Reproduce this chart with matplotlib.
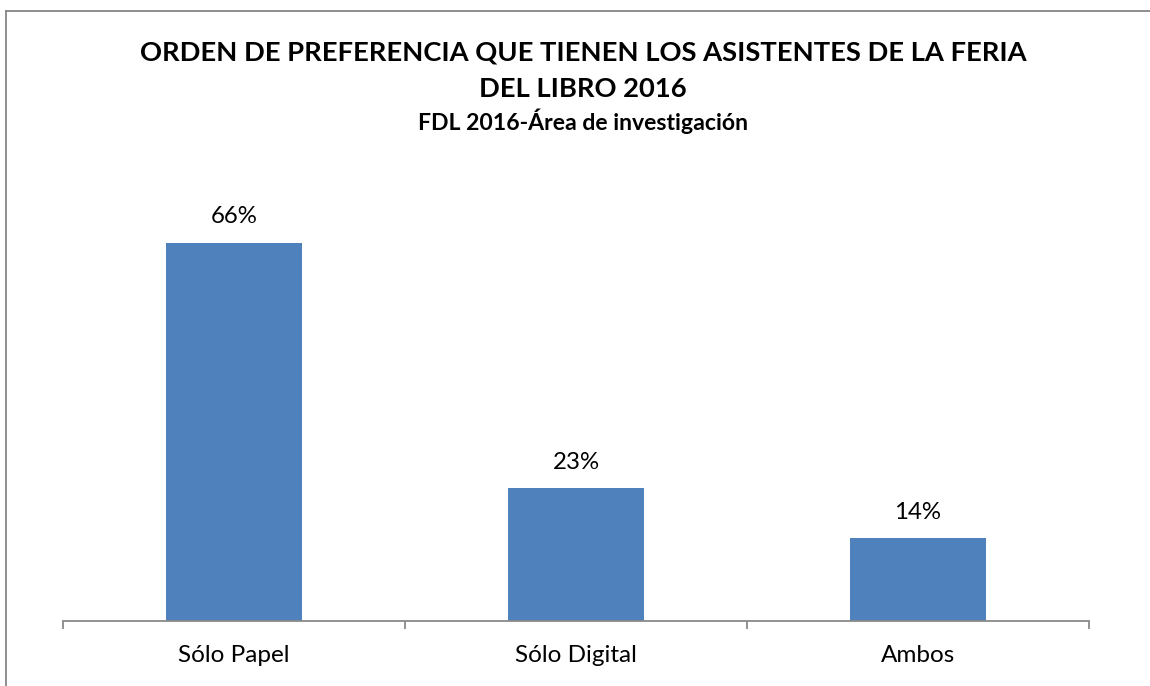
import matplotlib
matplotlib.use('Agg')
import matplotlib.pyplot as plt
from matplotlib.lines import Line2D

categories = ['Sólo Papel', 'Sólo Digital', 'Ambos']
values = [65.5, 23.0, 14.25]
value_labels = ['66%', '23%', '14%']
title_line1 = 'ORDEN DE PREFERENCIA QUE TIENEN LOS ASISTENTES DE LA FERIA'
title_line2 = 'DEL LIBRO 2016'
subtitle = 'FDL 2016-Área de investigación'

plt.rcParams['font.family'] = ['Lato', 'DejaVu Sans']

W, H = 1150, 686
fig = plt.figure(figsize=(W / 100, H / 100), dpi=100)
fig.patch.set_facecolor('white')

def fx(px):
    return px / W

def fy(py):
    return 1 - py / H

base_px = 620.5
top_px = 160
scale = 5.768  # px per percent
ax = fig.add_axes([fx(63), fy(base_px), fx(1089) - fx(63), (base_px - top_px) / H])
xpos = list(range(len(categories)))
bars = ax.bar(xpos, values, width=0.4, color='#4F81BD', zorder=2)
ax.set_xlim(-0.5, len(categories) - 0.5)
ax.set_ylim(0, (base_px - top_px) / scale)

ax.bar_label(bars, labels=value_labels, padding=11, fontsize=17.3, color='#000000')

for s in ['top', 'left', 'right']:
    ax.spines[s].set_visible(False)
ax.spines['bottom'].set_color('#898989')
ax.spines['bottom'].set_linewidth(1.3)
ax.set_yticks([])
ax.set_xticks(xpos)
ax.set_xticklabels(categories, fontsize=17.5)
ax.tick_params(axis='x', which='major', length=0, pad=18)
ax.set_xticks([i - 0.5 for i in range(len(categories) + 1)], minor=True)
ax.tick_params(axis='x', which='minor', length=6, width=1.3, color='#898989', direction='out')

# titles
cx = fx(583)
fig.text(cx, fy(53), title_line1, ha='center', va='center', fontsize=19.7, fontweight='bold')
fig.text(cx, fy(89), title_line2, ha='center', va='center', fontsize=19.7, fontweight='bold')
fig.text(cx, fy(121.5), subtitle, ha='center', va='center', fontsize=16.6, fontweight='bold')

# chart border (top and left visible)
fig.add_artist(Line2D([fx(5.5), 1.0], [fy(10.5), fy(10.5)], color='#868686', lw=1.3, transform=fig.transFigure))
fig.add_artist(Line2D([fx(5.5), fx(5.5)], [fy(10.5), 0.0], color='#868686', lw=1.3, transform=fig.transFigure))

fig.savefig('out.png', dpi=100, facecolor='white')
